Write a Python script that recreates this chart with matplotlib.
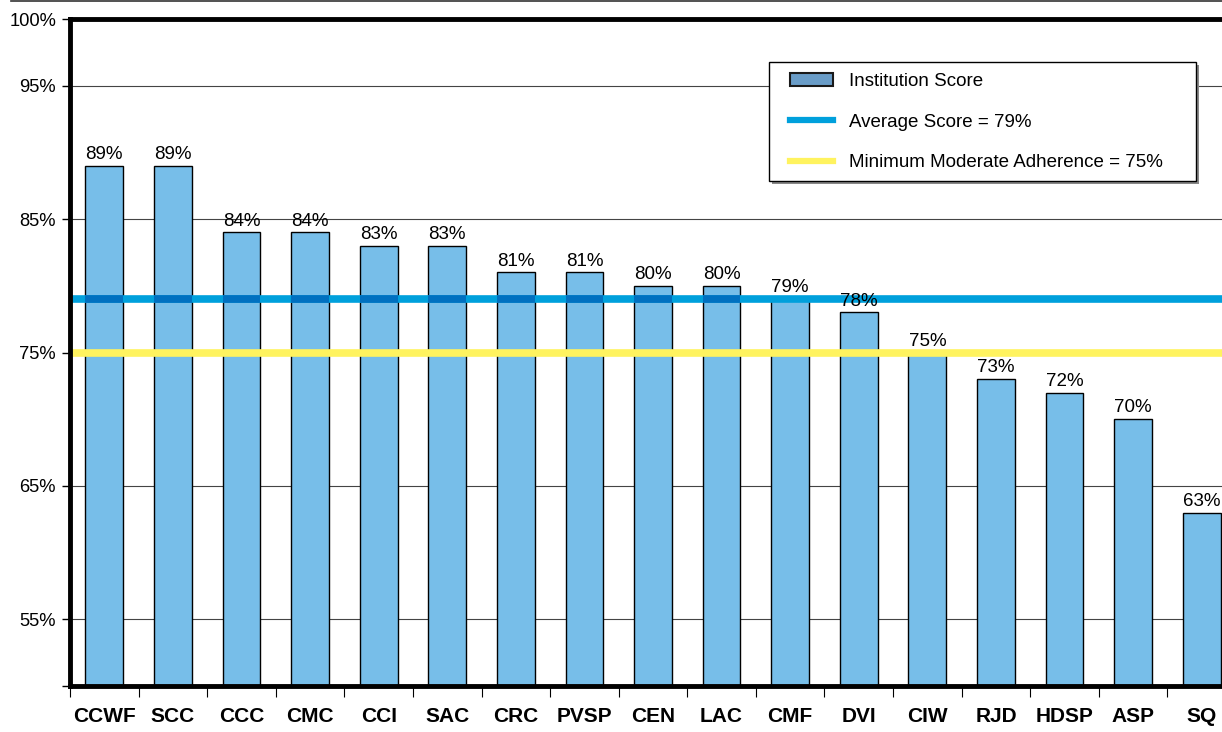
import matplotlib.pyplot as plt
from matplotlib.patches import Patch, Rectangle
from matplotlib.lines import Line2D
import numpy as np

plt.rcParams['font.family'] = ['Liberation Sans', 'DejaVu Sans']

# -------------------------------
# Data
# -------------------------------

institutions = ["CCWF", "SCC", "CCC", "CMC", "CCI", "SAC", "CRC", "PVSP", "CEN",
                "LAC", "CMF", "DVI", "CIW", "RJD", "HDSP", "ASP", "SQ"]
scores = [89, 89, 84, 84, 83, 83, 81, 81, 80, 80, 79, 78, 75, 73, 72, 70, 63]
average_score = 79
min_adherence = 75
ytick_values = [50, 55, 65, 75, 85, 95, 100]
ytick_labels = ["", "55%", "65%", "75%", "85%", "95%", "100%"]

bar_color = "#77BEE9"
avg_color = "#00A0DC"
avg_dark = "#0070C0"
min_color = "#FFF35F"

W, H = 1222, 732

# -------------------------------
# Figure
# -------------------------------

fig = plt.figure(figsize=(W / 100, H / 100), dpi=100)
ax = fig.add_axes([70 / W, 46 / H, 1166 / W, 667 / H])

x = np.arange(len(institutions))
bar_w = 0.55

# gridlines
for v in ytick_values[1:-1]:
    ax.axhline(v, color="#444444", lw=0.8, zorder=1)

bars = ax.bar(x, scores, width=bar_w, color=bar_color, edgecolor="black",
              linewidth=1.0, zorder=2)

# reference lines
ax.axhline(average_score, color=avg_color, lw=5.5, zorder=3)
ax.axhline(min_adherence, color=min_color, lw=5.5, zorder=3)

# average line looks darker where it crosses a bar
for xi, s in zip(x, scores):
    if s > average_score:
        ax.plot([xi - bar_w / 2, xi + bar_w / 2], [average_score, average_score],
                color=avg_dark, lw=5.5, solid_capstyle="butt", zorder=4)

# value labels
for xi, s in zip(x, scores):
    ax.text(xi, s + 0.22, "{}%".format(s), ha="center", va="bottom",
            fontsize=13.5, zorder=5)

# -------------------------------
# Axes styling
# -------------------------------

ax.set_xlim(-0.5, len(institutions) - 0.5)
ax.set_ylim(50, 100)

ax.set_yticks(ytick_values)
ax.set_yticklabels(ytick_labels, fontsize=13.2)
ax.tick_params(axis="y", length=6, width=1, pad=4, direction="out")

ax.set_xticks(x)
ax.set_xticklabels(institutions, fontsize=15, fontweight="bold")
ax.set_xticks(np.arange(len(institutions) + 1) - 0.5, minor=True)
ax.tick_params(axis="x", which="major", length=0, pad=15)
ax.tick_params(axis="x", which="minor", length=8, width=0.8, direction="out")

for side in ["left", "bottom", "top"]:
    ax.spines[side].set_linewidth(3.5)
    ax.spines[side].set_zorder(6)
ax.spines["right"].set_visible(False)

# thin border line at top of the chart area
fig.add_artist(Line2D([11 / W, 1], [0.9985, 0.9985], color="#333333", lw=1.2))

# -------------------------------
# Legend (frame drawn by hand)
# -------------------------------

lx0, lx1, ly0, ly1 = 769, 1196, 62, 181
fig.add_artist(Rectangle((lx0 / W + 3 / W, 1 - ly1 / H - 3 / H),
                         (lx1 - lx0) / W, (ly1 - ly0) / H,
                         facecolor="#888888", edgecolor="none", zorder=8))
fig.add_artist(Rectangle((lx0 / W, 1 - ly1 / H), (lx1 - lx0) / W,
                         (ly1 - ly0) / H, facecolor="white",
                         edgecolor="black", lw=1.0, zorder=9))

handles = [
    Patch(facecolor="#6A9DC8", edgecolor="#1a1a1a", linewidth=1.5),
    Line2D([0], [0], color=avg_color, lw=4.5),
    Line2D([0], [0], color=min_color, lw=4.5),
]
labels = ["Institution Score", "Average Score = 79%",
          "Minimum Moderate Adherence = 75%"]

leg = fig.legend(handles, labels, loc="upper left",
                 bbox_to_anchor=(790 / W, 1 - 73 / H),
                 fontsize=13.5, frameon=False, borderpad=0,
                 labelspacing=1.25, handlelength=2.3, handletextpad=0.85,
                 borderaxespad=0)
leg.set_zorder(10)

fig.savefig("out.png", dpi=100)
